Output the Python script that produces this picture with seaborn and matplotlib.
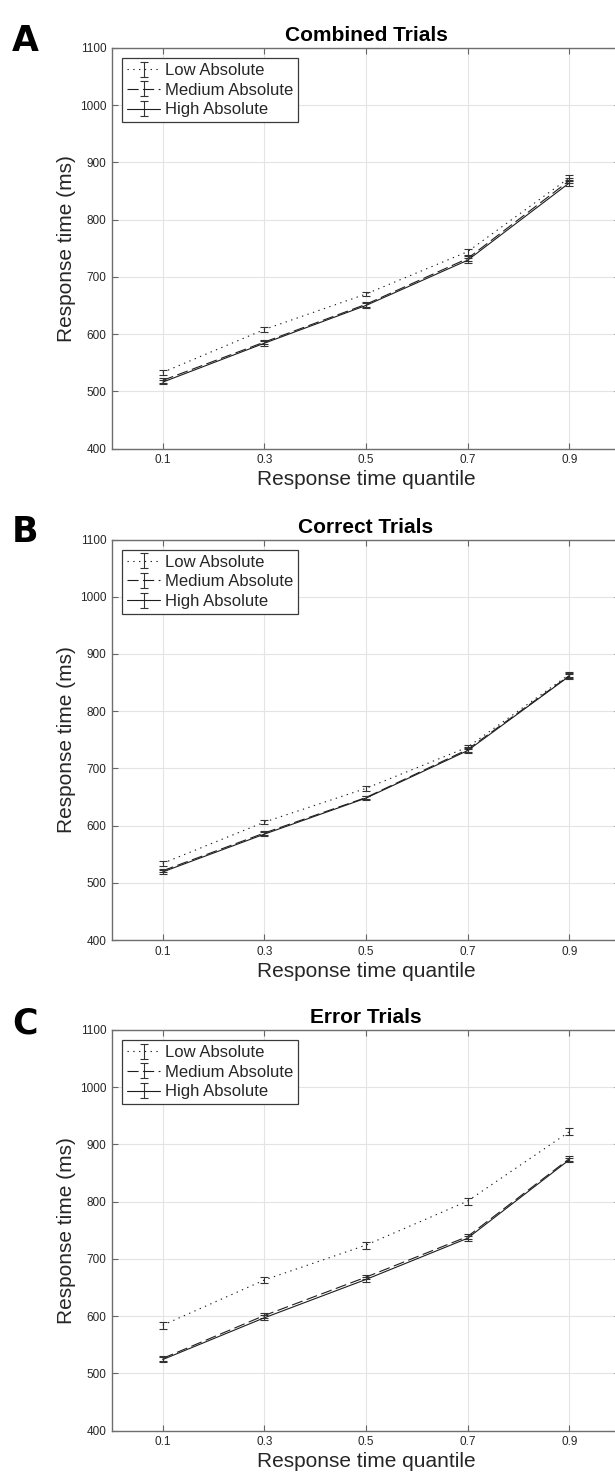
import matplotlib
matplotlib.use("Agg")
import matplotlib.pyplot as plt
import seaborn as sns
import pandas as pd
from matplotlib.container import ErrorbarContainer
from matplotlib.legend_handler import HandlerErrorbar

# Response-time quantiles on the x axis
quantiles = [0.1, 0.3, 0.5, 0.7, 0.9]
quantile_labels = ["0.1", "0.3", "0.5", "0.7", "0.9"]
conditions = ["Low Absolute", "Medium Absolute", "High Absolute"]
panel_titles = ["Combined Trials", "Correct Trials", "Error Trials"]
panel_letters = ["A", "B", "C"]
y_ticks = [400, 500, 600, 700, 800, 900, 1000, 1100]

# Mean response time (ms) and standard error per quantile
combined_low = [533, 608, 670, 744, 873]
combined_low_se = [5, 5, 4, 5, 5]
combined_medium = [519, 586, 652, 732, 868]
combined_medium_se = [4, 4, 4, 4, 4]
combined_high = [516, 584, 650, 729, 864]
combined_high_se = [4, 4, 4, 4, 5]

correct_low = [534, 606, 665, 737, 864]
correct_low_se = [4, 4, 4, 4, 4]
correct_medium = [521, 587, 649, 733, 862]
correct_medium_se = [3, 3, 3, 4, 4]
correct_high = [519, 585, 648, 731, 861]
correct_high_se = [3, 3, 3, 4, 4]

error_low = [584, 663, 724, 801, 922]
error_low_se = [6, 6, 6, 6, 6]
error_medium = [526, 601, 668, 739, 875]
error_medium_se = [4, 4, 4, 4, 4]
error_high = [524, 597, 664, 736, 873]
error_high_se = [4, 4, 4, 4, 4]

panels = [
    [(combined_low, combined_low_se), (combined_medium, combined_medium_se), (combined_high, combined_high_se)],
    [(correct_low, correct_low_se), (correct_medium, correct_medium_se), (correct_high, correct_high_se)],
    [(error_low, error_low_se), (error_medium, error_medium_se), (error_high, error_high_se)],
]

line_styles = [(0, (1.2, 4.0)), (0, (10, 4)), "-"]

sns.set_theme(style="whitegrid")
plt.rcParams["font.family"] = ["Liberation Sans", "DejaVu Sans"]

W, H = 615, 1477
fig = plt.figure(figsize=(W / 100, H / 100), dpi=100)

ax_left = 111.9
ax_right = 620.0
ax_tops = [48.0, 539.5, 1030.0]
ax_h = 400.5

ink = "#262626"
line_color = "#1e1e1e"

for p in range(3):
    top = ax_tops[p]
    ax = fig.add_axes([ax_left / W, 1 - (top + ax_h) / H,
                       (ax_right - ax_left) / W, ax_h / H])
    ax.set_facecolor("white")

    handles = []
    for c, (vals, se) in enumerate(panels[p]):
        df = pd.DataFrame({"quantile": quantiles, "rt": vals})
        sns.lineplot(data=df, x="quantile", y="rt", ax=ax, color=line_color,
                     linewidth=0.8, linestyle=line_styles[c], legend=False)
        data_line = ax.lines[-1]
        eb = ax.errorbar(quantiles, vals, yerr=se, fmt="none",
                         ecolor="#333333", elinewidth=0.8, capsize=2.6,
                         capthick=0.8)
        handles.append(ErrorbarContainer((data_line, eb[1], eb[2]),
                                         has_xerr=False, has_yerr=True,
                                         label=conditions[c]))

    ax.set_xlim(0, 1)
    ax.set_ylim(400, 1100)
    ax.set_xticks(quantiles)
    ax.set_xticklabels(quantile_labels)
    ax.set_yticks(y_ticks)
    ax.grid(True, color="#e4e4e4", linewidth=0.8)
    ax.set_axisbelow(True)
    ax.tick_params(direction="in", length=4, width=0.8, color="#666666",
                   top=True, right=True, bottom=True, left=True,
                   labelsize=8.5, labelcolor=ink, pad=4)
    for s in ax.spines.values():
        s.set_visible(True)
        s.set_color("#6e6e6e")
        s.set_linewidth(1.0)

    ax.set_title(panel_titles[p], fontsize=15, fontweight="bold",
                 color="black", pad=5)
    ax.set_xlabel("Response time quantile", fontsize=15, color=ink, labelpad=3)
    ax.set_ylabel("Response time (ms)", fontsize=15, color=ink, labelpad=3)

    leg = ax.legend(handles=handles, labels=conditions, loc="upper left",
                    fontsize=12, frameon=True, fancybox=False,
                    edgecolor="#3a3a3a", framealpha=1, facecolor="white",
                    borderaxespad=0.6, handlelength=2.0, handletextpad=0.3,
                    labelspacing=0.28, borderpad=0.3,
                    handler_map={ErrorbarContainer: HandlerErrorbar(xerr_size=0.45, yerr_size=0.45)})
    leg.get_frame().set_linewidth(0.9)

    fig.text(12 / W, 1 - (top + 3) / H, panel_letters[p], fontsize=25,
             fontweight="bold", color="black", ha="left", va="baseline",
             family=["DejaVu Sans"])

fig.savefig("out.png", dpi=100)
